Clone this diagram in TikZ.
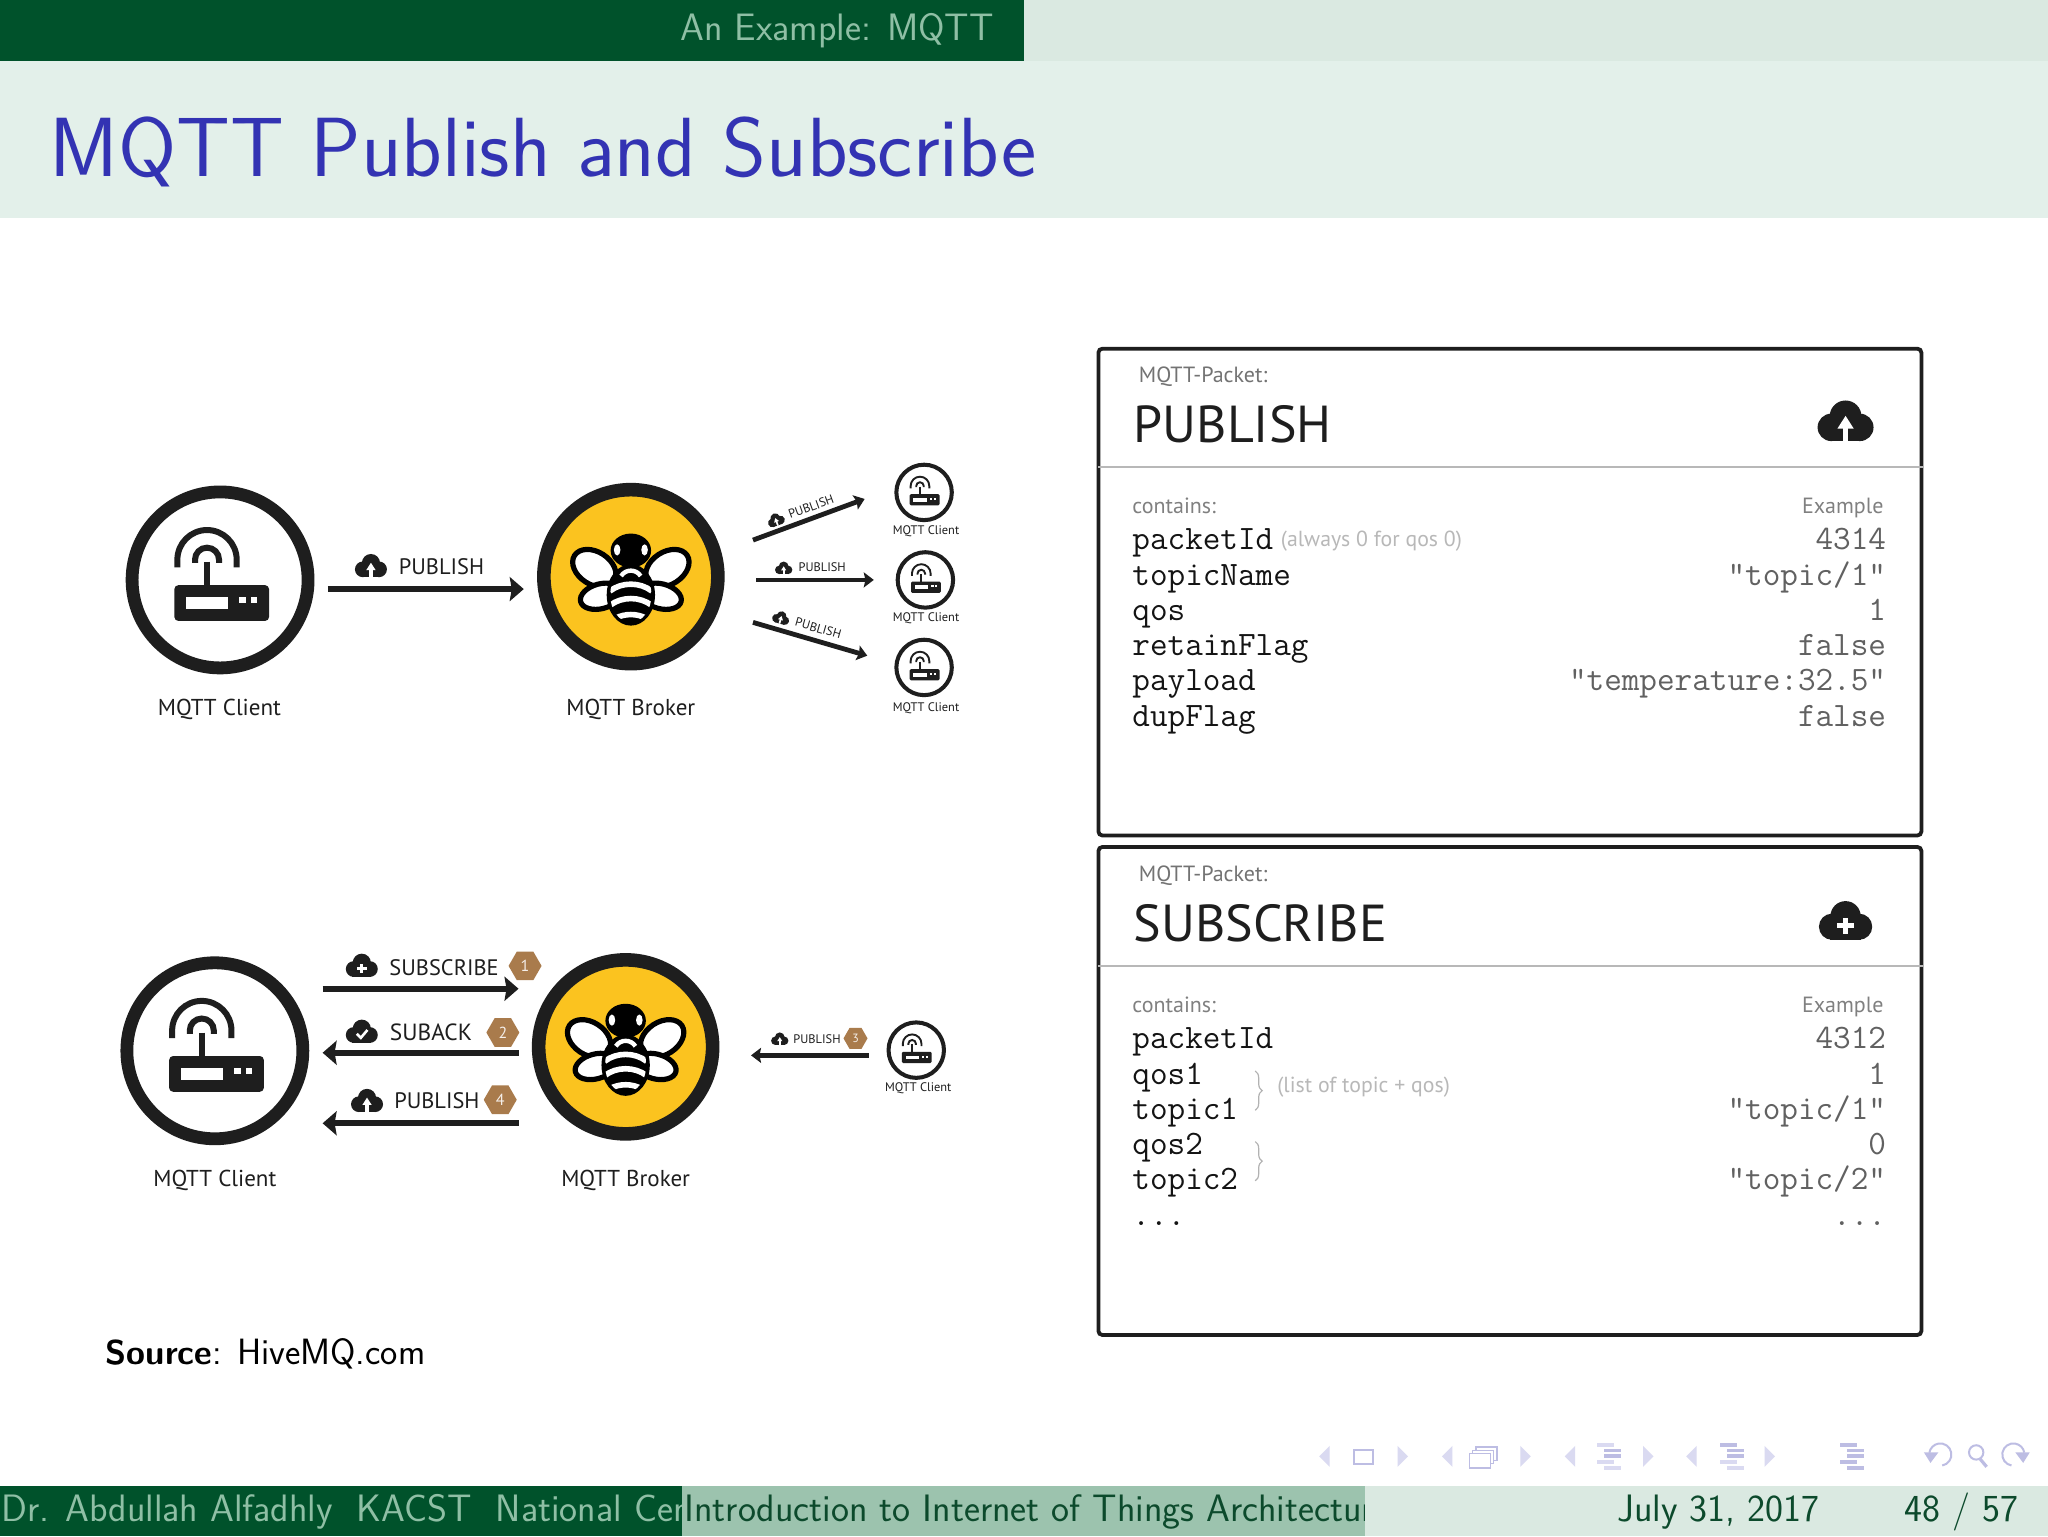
\documentclass[tikz,border=0pt]{standalone}
\usepackage{fontspec}
\usetikzlibrary{arrows.meta,shapes.geometric,decorations.pathreplacing}
\newfontfamily\labf{PT Sans}
\definecolor{dkgreen}{HTML}{00522B}
\definecolor{midgreen}{HTML}{9CC3AE}
\definecolor{ltgreen}{HTML}{DAE9E1}
\definecolor{titlebg}{HTML}{E3F0EA}
\definecolor{hdtext}{HTML}{8FBFA5}
\definecolor{ftdark}{HTML}{0C4A2C}
\definecolor{titleblue}{HTML}{3333B3}
\definecolor{ink}{HTML}{1E1E1E}
\definecolor{beeyellow}{HTML}{FBC31F}
\definecolor{hexbrown}{HTML}{A97B4C}
\definecolor{navdark}{HTML}{BDBDE3}
\definecolor{navpale}{HTML}{DADAF1}
\newcommand{\fs}[1]{\fontsize{#1}{#1}\selectfont}
\tikzset{
  x=0.65306pt,y=-0.65306pt,
  txt/.style={inner sep=0pt,outer sep=0pt,text=ink},
  clientring/.style={circle,draw=ink,fill=white,line width=6.4pt,inner sep=0pt},
  brokerring/.style={circle,draw=ink,fill=beeyellow,line width=6.8pt,inner sep=0pt,minimum size=87pt},
  bigarrow/.style={draw=ink,line width=2.9pt,-{Stealth[length=7pt,width=12pt,inset=1pt]}},
  smallarrow/.style={draw=ink,line width=2.4pt,-{Stealth[length=5pt,width=7.5pt,inset=0.8pt]}},
  packetbox/.style={draw=ink,line width=1.9pt,rounded corners=2pt,fill=white},
  sepline/.style={draw=black!28,line width=0.8pt},
  hexa/.style={regular polygon,regular polygon sides=6,fill=hexbrown,inner sep=0pt,text=white!88!hexbrown},
  mono/.style={txt,font=\ttfamily\fs{17.1},anchor=base west,text=black!92},
  monor/.style={txt,font=\ttfamily\fs{17.1},anchor=base east,text=black!62},
  pklab/.style={txt,font=\labf\fs{11},anchor=base west,text=black!55},
  pkhead/.style={txt,font=\labf\fs{26},anchor=base west},
  ghost/.style={txt,font=\labf\fs{10.9},text=black!28},
  clab/.style={txt,font=\labf\fs{11.5}},
  slab/.style={txt,font=\labf\fs{6.2}},
  alab/.style={txt,font=\labf\fs{11.2}},
  navpaleS/.style={fill=navpale,draw=none},
  navS/.style={draw=navdark,line width=0.75pt,fill=none},
}
% name, x, y, scale
\newcommand{\clientnode}[4]{%
  \node[clientring,minimum size=#4*88pt,line width=#4*6.4pt] (#1) at (#2,#3) {};
  \begin{scope}[shift={(#2,#3)},scale=#4]
    \fill[ink,rounded corners=#4*2pt] (-35,4) rectangle (37.5,31.4);
    \fill[white] (-26,13.3) rectangle (6,22.2);
    \fill[white] (14.8,13.3) rectangle (19.7,18);
    \fill[white] (23.7,13.3) rectangle (28.6,18);
    \draw[ink,line width=#4*3pt] (-10,-14) -- (-10,5);
    \draw[ink,line width=#4*3pt] (-32.7,-9.7) -- (-32.7,-15.5) arc[start angle=180,end angle=360,radius=22.7] -- (12.7,-9.7);
    \draw[ink,line width=#4*3pt] (-19.2,-13) -- (-19.2,-15.5) arc[start angle=180,end angle=360,radius=9.2] -- (-0.8,-13);
  \end{scope}}
% name, x, y
\newcommand{\brokernode}[3]{%
  \node[brokerring] (#1) at (#2,#3) {};
  \begin{scope}[shift={(#2,#3)}]
    \draw[black,fill=white,line width=2.6pt,rotate around={-33:(-28,-6.5)}] (-28,-6.5) ellipse [x radius=18,y radius=12.5];
    \draw[black,fill=white,line width=2.6pt,rotate around={33:(28,-6.5)}] (28,-6.5) ellipse [x radius=18,y radius=12.5];
    \draw[black,fill=white,line width=2.6pt,rotate around={15:(-23,15)}] (-23,15) ellipse [x radius=16,y radius=9.5];
    \draw[black,fill=white,line width=2.6pt,rotate around={-15:(23,15)}] (23,15) ellipse [x radius=16,y radius=9.5];
    \fill[black] (0,14) ellipse [x radius=18.5,y radius=23.5];
    \fill[black] (0,-20) ellipse [x radius=15.5,y radius=13];
    \fill[white] (-10.5,-20.5) ellipse [x radius=2.5,y radius=4.3];
    \fill[white] (10.5,-20.5) ellipse [x radius=2.5,y radius=4.3];
    \begin{scope}
      \clip (0,14) ellipse [x radius=15.8,y radius=21];
      \draw[white,line width=2.2pt] (-7.5,-0.5) .. controls (-4,-6) and (4,-6) .. (7.5,-0.5);
      \draw[white,line width=2.8pt] (-16,11) .. controls (-7,4) and (7,4) .. (16,11);
      \draw[white,line width=2.8pt] (-16,22) .. controls (-7,15) and (7,15) .. (16,22);
      \draw[white,line width=2.8pt] (-12,32) .. controls (-5,28) and (5,28) .. (12,32);
    \end{scope}
  \end{scope}}
% x, y, half width, rotation
\newcommand{\cloudbase}[4]{%
  \begin{scope}[shift={(#1,#2)},rotate=#4,scale=#3]
    \fill[ink] (0,-0.2) circle [radius=0.58];
    \fill[ink] (-0.52,0.2) circle [radius=0.5];
    \fill[ink] (0.52,0.2) circle [radius=0.5];
    \fill[ink] (-0.6,0) rectangle (0.6,0.7);
}
\newcommand{\cloudup}[4]{\cloudbase{#1}{#2}{#3}{#4}
    \fill[white] (-0.1,0.72) rectangle (0.1,0.15);
    \fill[white] (-0.3,0.25) -- (0.3,0.25) -- (0,-0.22) -- cycle;
  \end{scope}}
\newcommand{\cloudplus}[4]{\cloudbase{#1}{#2}{#3}{#4}
    \fill[white] (-0.1,-0.15) rectangle (0.1,0.48);
    \fill[white] (-0.32,0.07) rectangle (0.32,0.26);
  \end{scope}}
\newcommand{\cloudcheck}[4]{\cloudbase{#1}{#2}{#3}{#4}
    \draw[white,line width=1.3pt] (-0.32,0.12) -- (-0.06,0.38) -- (0.36,-0.12);
  \end{scope}}
% x, y, then the colours of the five rows
\newcommand{\navlines}[7]{%
  \fill[#3] (#1-9,#2-10) rectangle (#1+4,#2-7);
  \fill[#4] (#1-4,#2-5.5) rectangle (#1+9,#2-2.5);
  \fill[#5] (#1-4,#2-1) rectangle (#1+9,#2+2);
  \fill[#6] (#1-9,#2+3.5) rectangle (#1+4,#2+6.5);
  \fill[#7] (#1-4,#2+8) rectangle (#1+9,#2+11);
}
\begin{document}
\begin{tikzpicture}
\useasboundingbox (0,0) rectangle (1568,1176);
\fill[white] (0,0) rectangle (1568,1176);
% header
\fill[titlebg] (0,47) rectangle (1568,167);
\fill[ltgreen] (784,0) rectangle (1568,47);
\fill[dkgreen] (0,0) rectangle (784,47);
\node[txt,text=hdtext,font=\sffamily\fs{19.1},anchor=base east] (hd) at (761,31) {An Example: MQTT};
\node[txt,text=titleblue,font=\sffamily\fs{42},anchor=base west] (title) at (38,135) {MQTT Publish and Subscribe};
% footer
\fill[ltgreen] (0,1138) rectangle (1568,1176);
\fill[midgreen] (522,1138) rectangle (1045,1176);
\fill[dkgreen] (0,1138) rectangle (522,1176);
\begin{scope}
  \clip (0,1138) rectangle (522,1176);
  \node[txt,text=hdtext,font=\sffamily\fs{19.1},anchor=base west] (f1) at (1,1165) {Dr. Abdullah Alfadhly\ \ KACST\ \ National Cen};
\end{scope}
\begin{scope}
  \clip (522,1138) rectangle (1045,1176);
  \node[txt,text=ftdark,font=\sffamily\fs{19.1},anchor=base west] (f2) at (524,1165) {Introduction to Internet of Things Architecture};
\end{scope}
\node[txt,text=ftdark,font=\sffamily\fs{19.1},anchor=base east] (f3) at (1393,1165) {July 31, 2017};
\node[txt,text=ftdark,font=\sffamily\fs{19.1},anchor=base east] (f4) at (1545,1165) {48 / 57};
% nav symbols
\foreach \xx in {1014,1108,1202,1295}{\fill[navpaleS] (\xx+4,1107) -- (\xx+4,1123) -- (\xx-4,1115) -- cycle;}
\foreach \xx in {1074,1168,1262,1355}{\fill[navpaleS] (\xx-4,1107) -- (\xx-4,1123) -- (\xx+4,1115) -- cycle;}
\draw[navS,line width=1pt] (1036.5,1110) rectangle (1051.5,1121);
\draw[navS] (1130,1108) rectangle (1146,1118);
\draw[navS,fill=white] (1127.5,1110.5) rectangle (1143.5,1120.5);
\draw[navS,fill=white] (1125,1113) rectangle (1141,1124);
\navlines{1232}{1114.5}{navpale}{navdark}{navdark}{navpale}{navpale}
\navlines{1326}{1114.5}{navdark}{navdark}{navdark}{navpale}{navpale}
\navlines{1418}{1114.5}{navdark}{navdark}{navdark}{navdark}{navdark}
\draw[navS,line width=1pt] (1487,1122) arc[start angle=80,end angle=-170,radius=8.5];
\fill[navdark] (1473,1112) -- (1484,1112) -- (1478,1120) -- cycle;
\draw[navS,line width=1pt] (1513,1112) circle [radius=5.5];
\draw[navS,line width=1.6pt] (1516,1117) -- (1521,1123);
\draw[navS,line width=1pt] (1540,1122) arc[start angle=100,end angle=350,radius=8.5];
\fill[navdark] (1554,1112) -- (1543,1112) -- (1549,1120) -- cycle;
% top diagram
\clientnode{c1}{168.5}{444}{1}
\brokernode{b1}{483}{441.5}
\clientnode{s1}{707.5}{377}{0.315}
\clientnode{s2}{708.5}{444}{0.315}
\clientnode{s3}{707.5}{511}{0.315}
\node[clab] (lc1) at (168,543.5) {MQTT Client};
\node[clab] (lb1) at (483,543.5) {MQTT Broker};
\node[slab] (ls1) at (709,407) {MQTT Client};
\node[slab] (ls2) at (709,473.5) {MQTT Client};
\node[slab] (ls3) at (709,542) {MQTT Client};
\coordinate (a1s) at (251,451);
\coordinate (a1e) at (401,451);
\draw[bigarrow] (a1s) -- (a1e);
\cloudup{284}{433.5}{12}{0}
\node[alab] (tp1) at (338,433.5) {PUBLISH};
\coordinate (u1s) at (576.5,413.5);
\coordinate (u1e) at (662,382);
\coordinate (u2s) at (579,444);
\coordinate (u2e) at (669,444);
\coordinate (u3s) at (576.5,476.5);
\coordinate (u3e) at (664,502);
\draw[smallarrow] (u1s) -- (u1e);
\draw[smallarrow] (u2s) -- (u2e);
\draw[smallarrow] (u3s) -- (u3e);
\cloudup{594}{398}{6.5}{20}
\node[slab,rotate=20] (tu1) at (621,388) {PUBLISH};
\cloudup{600}{435}{6.5}{0}
\node[slab] (tu2) at (629.5,434.5) {PUBLISH};
\cloudup{598}{473}{6.5}{-16}
\node[slab,rotate=-16] (tu3) at (626.5,481) {PUBLISH};
% bottom diagram
\clientnode{c2}{164.5}{804.5}{1}
\brokernode{b2}{479}{801.5}
\clientnode{s4}{701.5}{804}{0.315}
\node[clab] (lc2) at (164.5,903.5) {MQTT Client};
\node[clab] (lb2) at (479,903.5) {MQTT Broker};
\node[slab] (ls4) at (703,833.5) {MQTT Client};
\coordinate (d1s) at (247,757);
\coordinate (d1e) at (397,757);
\coordinate (d2s) at (397,806);
\coordinate (d2e) at (247,806);
\coordinate (d3s) at (397,860);
\coordinate (d3e) at (247,860);
\draw[bigarrow] (d1s) -- (d1e);
\draw[bigarrow] (d2s) -- (d2e);
\draw[bigarrow] (d3s) -- (d3e);
\cloudplus{277}{739.5}{12}{0}
\node[alab] (td1) at (340,740.5) {SUBSCRIBE};
\node[hexa,minimum size=16.5pt,font=\labf\fs{8}] (h1) at (402,739.5) {1};
\cloudcheck{277}{790}{12}{0}
\node[alab,font=\labf\fs{11.7}] (td2) at (330,790.5) {SUBACK};
\node[hexa,minimum size=16.5pt,font=\labf\fs{8}] (h2) at (385,790.5) {2};
\cloudup{281}{843}{12}{0}
\node[alab] (td3) at (334.5,842.5) {PUBLISH};
\node[hexa,minimum size=16.5pt,font=\labf\fs{8}] (h4) at (383,842) {4};
\coordinate (e1s) at (665,808);
\coordinate (e1e) at (575,808);
\draw[smallarrow] (e1s) -- (e1e);
\cloudup{597}{795.5}{6.5}{0}
\node[slab] (te1) at (625.5,795.5) {PUBLISH};
\node[hexa,minimum size=12pt,font=\labf\fs{6}] (h3) at (655,795) {3};
\node[txt,text=black,font=\sffamily\fs{18.3},anchor=base west] (src) at (81,1045) {{\fs{17.2}\textbf{Source}}: HiveMQ.com};
% PUBLISH packet
\node[packetbox,minimum width=411.5pt,minimum height=243.4pt,anchor=north west,inner sep=0pt] (pk1) at (839.5,265.5) {};
\draw[sepline] (841,357.5) -- (1472,357.5);
\node[pklab] (p1a) at (872,293) {MQTT-Packet:};
\node[pkhead] (p1b) at (868,339) {PUBLISH};
\cloudup{1413}{323}{21}{0}
\node[pklab,text=black!50] (p1c) at (867,393.5) {contains:};
\node[pklab,anchor=base east,text=black!50] (p1d) at (1442,393.5) {Example};
\node[mono] (p1e) at (867,421) {packetId};
\node[ghost] (p1f) at (1050,414.5) {(always 0 for qos 0)};
\node[mono] (p1g) at (867,448) {topicName};
\node[mono] (p1h) at (867,475) {qos};
\node[mono] (p1i) at (867,502) {retainFlag};
\node[mono] (p1j) at (867,529) {payload};
\node[mono] (p1k) at (867,556) {dupFlag};
\node[monor] (p1l) at (1444,421) {4314};
\node[monor] (p1m) at (1444,448) {"topic/1"};
\node[monor] (p1n) at (1444,475) {1};
\node[monor] (p1o) at (1444,502) {false};
\node[monor] (p1p) at (1444,529) {"temperature:32.5"};
\node[monor] (p1q) at (1444,556) {false};
% SUBSCRIBE packet
\node[packetbox,minimum width=411.5pt,minimum height=244pt,anchor=north west,inner sep=0pt] (pk2) at (839.5,647) {};
\draw[sepline] (841,739.5) -- (1472,739.5);
\node[pklab] (p2a) at (872,675) {MQTT-Packet:};
\node[pkhead] (p2b) at (868,721) {SUBSCRIBE};
\cloudplus{1413}{705.5}{20}{0}
\node[pklab,text=black!50] (p2c) at (867,775.5) {contains:};
\node[pklab,anchor=base east,text=black!50] (p2d) at (1442,775.5) {Example};
\node[mono] (p2e) at (867,803) {packetId};
\node[mono] (p2f) at (867,830) {qos1};
\node[mono] (p2g) at (867,857) {topic1};
\node[mono] (p2h) at (867,884) {qos2};
\node[mono] (p2i) at (867,911) {topic2};
\node[mono] (p2j) at (867,938) {...};
\node[monor] (p2k) at (1444,803) {4312};
\node[monor] (p2l) at (1444,830) {1};
\node[monor] (p2m) at (1444,857) {"topic/1"};
\node[monor] (p2n) at (1444,884) {0};
\node[monor] (p2o) at (1444,911) {"topic/2"};
\node[monor] (p2p) at (1444,938) {...};
\draw[black!30,line width=0.6pt,decorate,decoration={brace,amplitude=3.5pt}] (961,820) -- (961,850);
\draw[black!30,line width=0.6pt,decorate,decoration={brace,amplitude=3.5pt}] (961,874) -- (961,904);
\node[ghost] (p2q) at (1044,832) {(list of topic + qos)};
\end{tikzpicture}
\end{document}
